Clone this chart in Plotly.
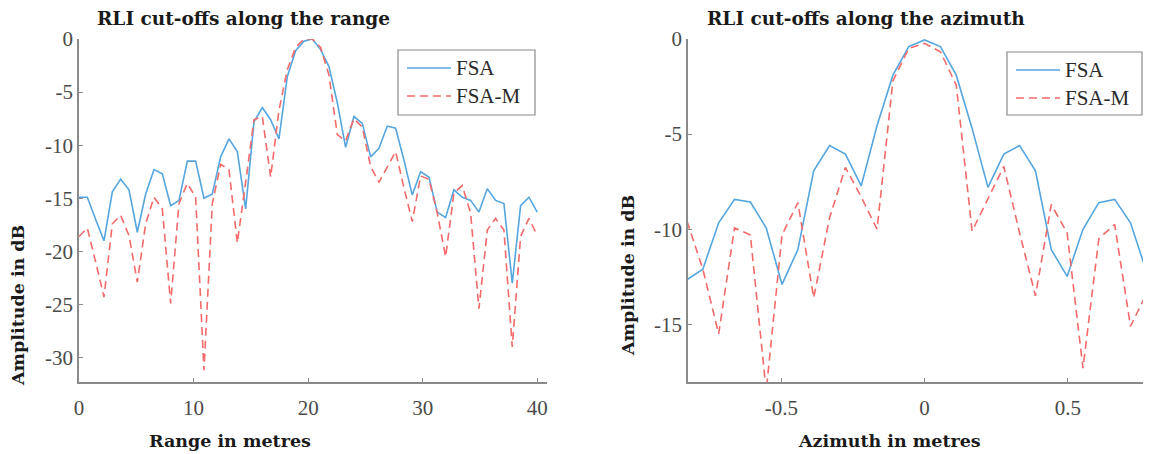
import numpy as np
import plotly.graph_objects as go

# ---------------- data ----------------
range_m = [40.0 * k / 55 for k in range(56)]
range_fsa = [-14.9, -14.9, -17.0, -19.0, -14.4, -13.2, -14.2, -18.2, -14.6, -12.3,
             -12.7, -15.7, -15.2, -11.5, -11.5, -15.0, -14.6, -11.1, -9.4, -10.6,
             -16.0, -7.8, -6.45, -7.6, -9.4, -3.55, -1.1, -0.2, 0.0, -1.0,
             -2.6, -6.0, -10.2, -7.3, -7.95, -11.1, -10.3, -8.2, -8.4, -11.4,
             -14.7, -12.5, -13.0, -16.3, -16.8, -14.2, -14.9, -15.2, -16.3, -14.1,
             -15.2, -15.5, -23.0, -15.7, -14.9, -16.3]
range_fsam = [-18.6, -17.8, -21.0, -24.3, -17.4, -16.6, -18.5, -22.9, -17.4, -14.9,
              -16.0, -24.9, -15.5, -13.6, -14.9, -31.2, -15.5, -11.8, -12.3, -19.2,
              -13.5, -7.6, -7.3, -13.0, -6.7, -2.9, -0.8, 0.0, 0.0, -0.8,
              -3.4, -9.0, -9.6, -7.5, -8.3, -12.0, -13.5, -12.0, -10.6, -14.0,
              -17.2, -12.9, -13.2, -16.4, -20.5, -14.5, -13.8, -16.4, -25.4, -18.0,
              -16.9, -18.0, -29.0, -18.6, -16.9, -18.5]

az_m = [(k - 15) * 0.0553 for k in range(30)]
az_fsa = [-12.65, -12.1, -9.66, -8.43, -8.57, -9.93, -12.9, -11.07, -6.93, -5.6,
          -6.05, -7.72, -4.55, -1.9, -0.4, -0.05, -0.4, -1.9, -4.7, -7.8,
          -6.05, -5.6, -6.93, -11.07, -12.48, -10.0, -8.6, -8.43, -9.66, -12.2]
az_fsam = [-9.57, -12.1, -15.5, -9.93, -10.3, -18.5, -10.3, -8.6, -13.6, -9.4,
           -6.75, -8.3, -10.0, -2.2, -0.5, -0.23, -0.67, -2.43, -10.1, -8.4,
           -6.7, -10.2, -13.5, -8.7, -10.2, -17.3, -10.5, -9.75, -15.1, -13.4]

range_ticks = [0, 10, 20, 30, 40]
range_ticklabels = ["0", "10", "20", "30", "40"]
range_yticks = [-30, -25, -20, -15, -10, -5, 0]
range_yticklabels = ["-30", "-25", "-20", "-15", "-10", "-5", "0"]
az_ticks = [-0.5, 0, 0.5]
az_ticklabels = ["-0.5", "0", "0.5"]
az_yticks = [-15, -10, -5, 0]
az_yticklabels = ["-15", "-10", "-5", "0"]

# ---------------- style ----------------
OFF = 8                      # page body margin offset
W, H = 1151 - OFF, 454 - OFF
BLUE = "#55a6df"
RED = "#f46a6a"
DASH = "8px,5px"
SERIF = "Liberation Serif, Times New Roman, serif"
BSERIF = "DejaVu Serif, serif"
TICKC = "#4a4a4a"
AXC = "#8a8a8a"

def px_x(p):
    return (p - OFF) / W

def px_y(p):
    return 1 - (p - OFF) / H

fig = go.Figure()
fig.add_trace(go.Scatter(x=range_m, y=range_fsa, mode="lines", name="FSA",
                         line=dict(color=BLUE, width=1.6), xaxis="x", yaxis="y"))
fig.add_trace(go.Scatter(x=range_m, y=range_fsam, mode="lines", name="FSA-M",
                         line=dict(color=RED, width=1.6, dash=DASH), xaxis="x", yaxis="y"))
fig.add_trace(go.Scatter(x=az_m, y=az_fsa, mode="lines", name="FSA",
                         line=dict(color=BLUE, width=1.6), xaxis="x2", yaxis="y2"))
fig.add_trace(go.Scatter(x=az_m, y=az_fsam, mode="lines", name="FSA-M",
                         line=dict(color=RED, width=1.6, dash=DASH), xaxis="x2", yaxis="y2"))

axis_common = dict(showgrid=False, zeroline=False, showline=True, linecolor=AXC, linewidth=1.5,
                   ticks="inside", ticklen=4, tickcolor=AXC, tickwidth=1, automargin=False,
                   tickfont=dict(family=SERIF, size=21, color=TICKC), mirror=False)

ydom = [px_y(382), px_y(39)]
fig.update_layout(
    width=W, height=H, margin=dict(l=0, r=0, t=0, b=0, autoexpand=False),
    plot_bgcolor="white", paper_bgcolor="white", showlegend=False,
    xaxis=dict(domain=[px_x(79), px_x(547)], range=[0, 40.85], tickvals=range_ticks,
               ticktext=range_ticklabels, anchor="y", ticklabelstandoff=6, **axis_common),
    yaxis=dict(domain=ydom, range=[-32.3, 0], tickvals=range_yticks, ticktext=range_yticklabels,
               anchor="x", ticksuffix=" ", **axis_common),
    xaxis2=dict(domain=[px_x(688), min(1.0, px_x(1148))], range=[-0.826, 0.78], tickvals=az_ticks,
                ticktext=az_ticklabels, anchor="y2", ticklabelstandoff=6, **axis_common),
    yaxis2=dict(domain=ydom, range=[-18.03, 0], tickvals=az_yticks, ticktext=az_yticklabels,
                anchor="x2", ticksuffix=" ", **axis_common),
)

ann = []
def text(x, y, s, size, bold=True, angle=0, color="#1a1a1a", xanchor="center", family=BSERIF):
    ann.append(dict(x=px_x(x), y=px_y(y), xref="paper", yref="paper", text=("<b>%s</b>" % s) if bold else s,
                    showarrow=False, textangle=angle, xanchor=xanchor, yanchor="middle",
                    font=dict(family=family, size=size, color=color)))

text(243, 19, "RLI cut-offs along the range", 18.5)
text(866, 19, "RLI cut-offs along the azimuth", 18.5)
text(230, 441, "Range in metres", 17.5)
text(889, 441, "Azimuth in metres", 17.5)
text(18, 306, "Amplitude in dB", 17.5, angle=-90)
text(628, 276, "Amplitude in dB", 17.5, angle=-90)

# legends (drawn with shapes + text, positioned like the reference)
shapes = []
def legend(x0, y0, x1, y1):
    shapes.append(dict(type="rect", xref="paper", yref="paper", x0=px_x(x0), x1=px_x(x1),
                       y0=px_y(y1), y1=px_y(y0), line=dict(color="#8a8a8a", width=1.2),
                       fillcolor="white", layer="above"))
    ya, yb = y0 + 18, y0 + 46
    shapes.append(dict(type="line", xref="paper", yref="paper", x0=px_x(x0 + 9), x1=px_x(x0 + 53),
                       y0=px_y(ya), y1=px_y(ya), line=dict(color=BLUE, width=1.6), layer="above"))
    shapes.append(dict(type="line", xref="paper", yref="paper", x0=px_x(x0 + 9), x1=px_x(x0 + 53),
                       y0=px_y(yb), y1=px_y(yb), line=dict(color=RED, width=1.6, dash=DASH), layer="above"))
    text(x0 + 56, ya, "FSA", 21, bold=False, color="#2a2a2a", xanchor="left", family=SERIF)
    text(x0 + 56, yb, "FSA-M", 21, bold=False, color="#2a2a2a", xanchor="left", family=SERIF)

legend(398, 50, 535, 115)
legend(1007, 52, 1142, 115)

fig.update_layout(annotations=ann, shapes=shapes)
fig.write_html("out.html")
